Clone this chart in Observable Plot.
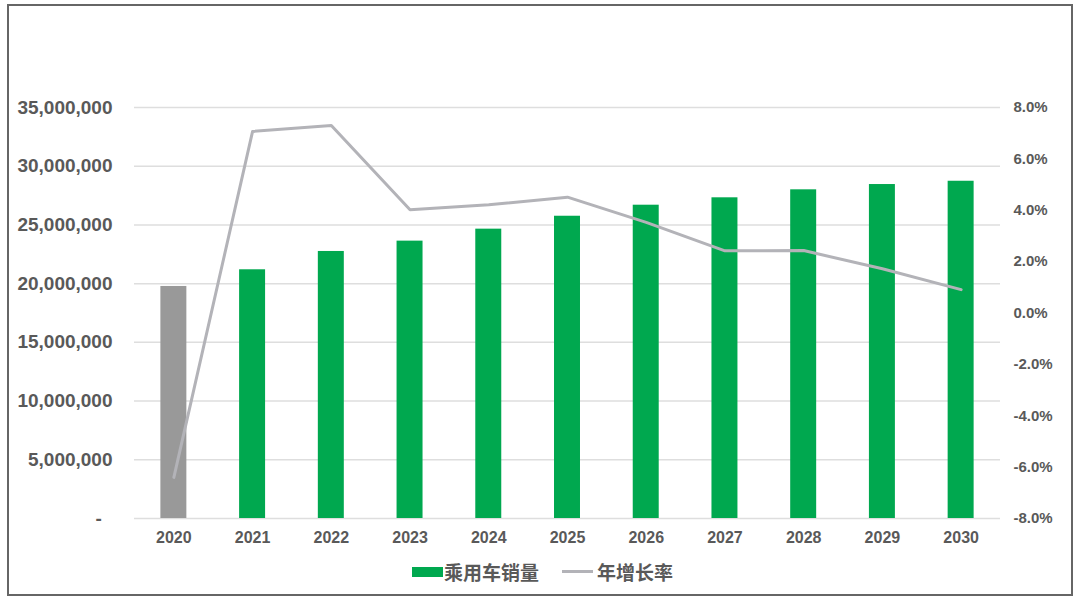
<!DOCTYPE html>
<html>
<head>
<meta charset="utf-8">
<script src="https://cdn.jsdelivr.net/npm/d3@7"></script>
<script src="https://cdn.jsdelivr.net/npm/@observablehq/plot@0.6"></script>
<style>
  html, body { margin: 0; padding: 0; background: #fff; }
  #wrap { position: relative; width: 1080px; height: 606px; overflow: hidden; background: #fff; }
  #frame { position: absolute; left: 7px; top: 4px; width: 1066px; height: 592px; box-sizing: border-box; border: 2px solid #666; pointer-events: none; }
  #chart { position: absolute; left: 0; top: 0; }
  #legend { position: absolute; left: 0; top: 560px; width: 1080px; height: 24px; font-family: "Noto Sans CJK SC", sans-serif; font-weight: bold; font-size: 19px; color: #595959; }
  .sw { position: absolute; }
  .lt { position: absolute; top: 0; line-height: 24px; }
</style>
</head>
<body>
<div id="wrap">
  <div id="chart"></div>
  <div id="legend">
    <div class="sw" style="left:412px; top:7px; width:31px; height:10px; background:#00A84F;"></div>
    <div class="lt" style="left:444px;">乘用车销量</div>
    <div class="sw" style="left:562px; top:10px; width:31px; height:3px; background:#b3b3b8;"></div>
    <div class="lt" style="left:597px;">年增长率</div>
  </div>
  <div id="frame"></div>
</div>
<script>
const years = ["2020","2021","2022","2023","2024","2025","2026","2027","2028","2029","2030"];
const sales = [19760000, 21180000, 22740000, 23620000, 24640000, 25740000, 26680000, 27310000, 27990000, 28440000, 28720000];
const growth = [-6.4, 7.07, 7.30, 4.02, 4.21, 4.51, 3.53, 2.42, 2.43, 1.72, 0.91];
const leftTicks = [0, 5000000, 10000000, 15000000, 20000000, 25000000, 30000000, 35000000];
const rightTicks = [-8, -6, -4, -2, 0, 2, 4, 6, 8];

const yMax = 35000000;
const pctMin = -8, pctMax = 8;
const toLeft = p => (p - pctMin) / (pctMax - pctMin) * yMax;
const fromLeft = v => v / yMax * (pctMax - pctMin) + pctMin;

const barData = years.map((y, i) => ({year: y, value: sales[i]}));
const lineData = years.map((y, i) => ({year: y, g: toLeft(growth[i])}));

const fontNum = "'Liberation Sans', Arial, sans-serif";
const pctFmt = v => (Math.round(fromLeft(v) * 10) / 10).toFixed(1) + "%";

const chart = Plot.plot({
  width: 1080,
  height: 558,
  marginLeft: 134,
  marginRight: 80,
  marginTop: 107,
  marginBottom: 40,
  style: {fontFamily: fontNum, background: "transparent"},
  x: {domain: years, paddingInner: 0.67, paddingOuter: 0.335, round: false, label: null},
  y: {domain: [0, yMax], label: null},
  marks: [
    Plot.gridY(leftTicks, {stroke: "#dedede", strokeOpacity: 1, strokeWidth: 1.5}),
    Plot.barY(barData, {x: "year", y: "value", fill: d => d.year === "2020" ? "#999999" : "#00A84F"}),
    Plot.lineY(lineData, {x: "year", y: "g", stroke: "#b3b3b8", strokeWidth: 3, strokeLinejoin: "round"}),
    Plot.axisY(leftTicks, {
      anchor: "left", tickSize: 0, tickPadding: 22,
      tickFormat: d => d === 0 ? "-\u2007" : d3.format(",")(d),
      fontSize: 19, fontWeight: "bold", fill: "#595959", label: null
    }),
    Plot.axisY(rightTicks.map(toLeft), {
      anchor: "right", tickSize: 0, tickPadding: 13,
      tickFormat: pctFmt,
      fontSize: 15, fontWeight: "bold", fill: "#595959", label: null
    }),
    Plot.axisX({
      tickSize: 0, tickPadding: 13,
      fontSize: 16, fontWeight: "bold", fill: "#595959", label: null
    })
  ]
});
document.getElementById("chart").appendChild(chart);
</script>
</body>
</html>
